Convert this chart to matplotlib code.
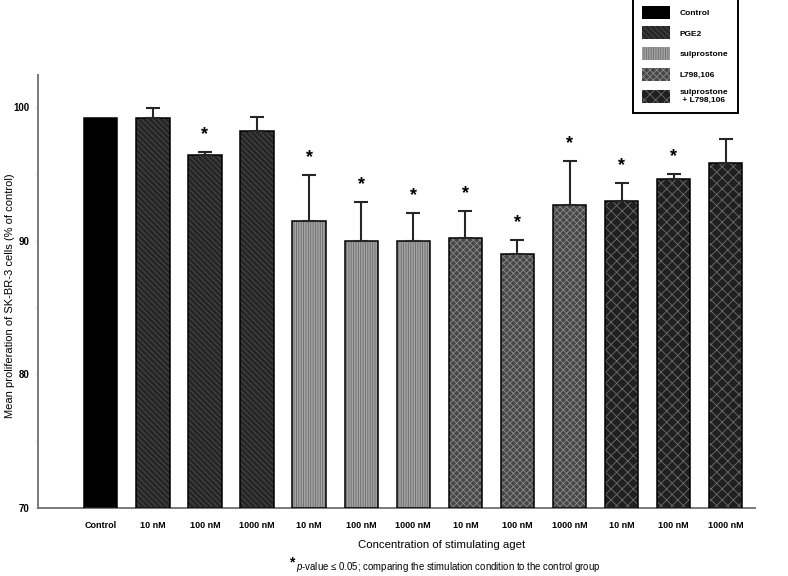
import numpy as np
import matplotlib.pyplot as plt
from matplotlib.patches import Patch

plt.rcParams['font.family'] = ['Liberation Sans', 'DejaVu Sans']
plt.rcParams['mathtext.fontset'] = 'custom'
plt.rcParams['mathtext.rm'] = 'Liberation Sans'
plt.rcParams['mathtext.it'] = 'Liberation Sans:italic'
plt.rcParams['hatch.linewidth'] = 0.6

# data
labels = ['Control', '10 nM', '100 nM', '1000 nM', '10 nM', '100 nM', '1000 nM',
          '10 nM', '100 nM', '1000 nM', '10 nM', '100 nM', '1000 nM']
groups = ['Control', 'PGE2', 'PGE2', 'PGE2', 'sulprostone', 'sulprostone', 'sulprostone',
          'L798,106', 'L798,106', 'L798,106', 'combo', 'combo', 'combo']
means = [99.2, 99.2, 96.4, 98.2, 91.5, 90.0, 90.0, 90.2, 89.0, 92.7, 93.0, 94.6, 95.8]
errs = [0.0, 0.75, 0.2, 1.05, 3.4, 2.9, 2.05, 2.0, 1.05, 3.25, 1.3, 0.4, 1.8]
signif = [False, False, True, False, True, True, True, True, True, True, True, True, False]

legend_names = ['Control', 'PGE2', 'sulprostone', 'L798,106', 'sulprostone\n + L798,106']

# fill, hatch, hatch colour per group
styles = {
    'Control': ('black', '', 'black'),
    'PGE2': ('#262626', '\\\\\\\\\\\\', '#4e4e4e'),
    'sulprostone': ('#a4a4a4', '|||||||', '#6a6a6a'),
    'L798,106': ('#474747', 'xxxxx', '#8a8a8a'),
    'combo': ('#202020', 'xxx', '#6e6e6e'),
}

fig = plt.figure(figsize=(7.88, 5.76), dpi=100)
ax = fig.add_axes([0.048, 0.118, 0.91, 0.752])

x = np.arange(len(means))
w = 0.64
for i, g in enumerate(groups):
    fc, hatch, hc = styles[g]
    ax.bar(x[i], means[i] - 70, bottom=70, width=w, color=fc, linewidth=0, zorder=2)
    if hatch:
        ax.bar(x[i], means[i] - 70, bottom=70, width=w, fill=False, hatch=hatch,
               edgecolor=hc, linewidth=0, zorder=3)
    ax.bar(x[i], means[i] - 70, bottom=70, width=w, fill=False,
           edgecolor='black', linewidth=1.1, zorder=4)

m = np.array(errs) > 0
ax.errorbar(x[m], np.array(means)[m], yerr=[np.zeros(m.sum()), np.array(errs)[m]],
            fmt='none', ecolor='#262626', elinewidth=1.5, capsize=5, capthick=1.5, zorder=5)

for i in range(len(means)):
    if signif[i]:
        ax.annotate('*', (x[i], means[i] + errs[i]), xytext=(0, 12.5),
                    textcoords='offset points', ha='center', va='center',
                    fontsize=13, fontweight='bold')

ax.set_xlim(-1.21, 12.56)
ax.set_ylim(70, 102.4)
ax.set_yticks([70, 80, 90, 100])
ax.set_yticks([75, 85, 95], minor=True)
ax.set_xticks(x)
ax.set_xticklabels(labels, fontsize=6.5, fontweight='bold')
ax.tick_params(axis='x', length=0, pad=9)
ax.tick_params(axis='y', which='both', length=2, color='#dddddd', labelsize=7, pad=4)
for t in ax.get_yticklabels():
    t.set_fontweight('bold')

for s in ['top', 'right']:
    ax.spines[s].set_visible(False)
for s in ['left', 'bottom']:
    ax.spines[s].set_color('#7a7a7a')
    ax.spines[s].set_linewidth(1.4)

ax.set_ylabel('Mean proliferation of SK-BR-3 cells (% of control)', fontsize=8)
ax.yaxis.set_label_coords(-0.032, 0.49)
fig.text(0.561, 0.054, 'Concentration of stimulating aget', ha='center', va='center', fontsize=8.2)
fig.text(289 / 788, 0.024, '*', ha='left', va='center', fontsize=10, fontweight='bold')
fig.text(296 / 788, 0.016,
         r'$\mathit{p}$-value ≤ 0.05; comparing the stimulation condition to the control group',
         ha='left', va='center', fontsize=6.9)

handles = []
for g in ['Control', 'PGE2', 'sulprostone', 'L798,106', 'combo']:
    fc, hatch, hc = styles[g]
    handles.append(Patch(facecolor=fc, hatch=hatch, edgecolor=hc, linewidth=0))
leg = fig.legend(handles, legend_names, loc='upper right', bbox_to_anchor=(742 / 788, 1.014),
                 frameon=True, fancybox=False, framealpha=1, edgecolor='black',
                 prop={'size': 6, 'weight': 'bold'}, handlelength=3.4, handleheight=2.0,
                 labelspacing=0.95, handletextpad=1.1, borderpad=1.15)
leg.get_frame().set_linewidth(1.4)

fig.savefig('out.png', dpi=100)
